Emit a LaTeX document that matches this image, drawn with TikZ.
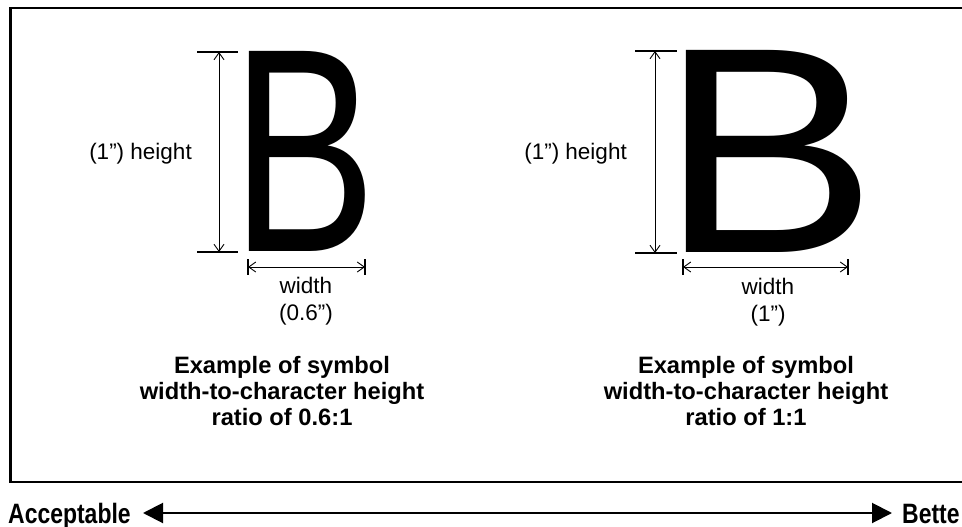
\documentclass[tikz,border=0pt]{standalone}
\usepackage{fontspec}
\setmainfont{Liberation Sans}
\newfontfamily\narrowsans{Liberation Sans}[FakeStretch=0.82]
\usetikzlibrary{arrows.meta}
\newcommand{\inch}{\symbol{34}}

\begin{document}
\begin{tikzpicture}[x=1pt,y=-1pt,
	dim/.style={line width=0.9pt,{Straight Barb[length=7pt,width=10pt]}-{Straight Barb[length=7pt,width=10pt]}},
	ext/.style={line width=1.1pt},
	glyph/.style={inner sep=0pt,anchor=south west},
	lbl/.style={inner sep=0pt,font=\fontsize{22.5}{26.5}\selectfont},
	caption/.style={inner sep=0pt,align=center,anchor=north,font=\fontsize{23.7}{26}\selectfont\bfseries},
	ends/.style={inner sep=0pt,anchor=base west,font=\narrowsans\fontsize{28}{30}\selectfont\bfseries}]
		\useasboundingbox (0,0) rectangle (962,527);
		\clip (0,0) rectangle (962,527);
		\draw[line width=2.5pt] (10.5,8) rectangle (990,482);
		% left letter, 0.6 : 1
		\node[glyph] (bleft) at (231,252) {\resizebox{145pt}{200pt}{B}};
		\coordinate (lhtop) at (219,52); \coordinate (lhbot) at (219,252);
		\draw[ext] (197,52) -- (238,52); \draw[ext] (197,252) -- (238,252);
		\draw[dim] (lhtop) -- (lhbot);
		\coordinate (lwleft) at (248,267); \coordinate (lwright) at (365,267);
		\draw[ext] (248,259) -- (248,275); \draw[ext] (365,259) -- (365,275);
		\draw[dim] (lwleft) -- (lwright);
		\node[lbl,anchor=base east] (lheight) at (192,159) {(1\inch) height};
		\node[lbl,align=center,anchor=north] (lwidth) at (306,277) {width\\(0.6\inch)};
		\node[caption] (lcap) at (282,356) {Example of symbol\\width-to-character height\\ratio of 0.6:1};
		% right letter, 1 : 1
		\node[glyph] (bright) at (659,253) {\resizebox{218pt}{202pt}{B}};
		\coordinate (rhtop) at (655,51); \coordinate (rhbot) at (655,253);
		\draw[ext] (635,51) -- (677,51); \draw[ext] (635,253) -- (677,253);
		\draw[dim] (rhtop) -- (rhbot);
		\coordinate (rwleft) at (683,267); \coordinate (rwright) at (848,267);
		\draw[ext] (683,259) -- (683,275); \draw[ext] (848,259) -- (848,275);
		\draw[dim] (rwleft) -- (rwright);
		\node[lbl,anchor=base east] (rheight) at (627,159) {(1”) height};
		\node[lbl,align=center,anchor=north] (rwidth) at (768,278) {width\\(1”)};
		\node[caption] (rcap) at (746,356) {Example of symbol\\width-to-character height\\ratio of 1:1};
		% scale along the bottom
		\node[ends] (acc) at (8,523) {Acceptable};
		\node[ends] (bet) at (902,523) {Bette};
		\coordinate (acctip) at (143,513); \coordinate (bettip) at (892,513);
		\draw[line width=2pt,{Triangle[length=20pt,width=20pt]}-{Triangle[length=20pt,width=20pt]}] (acctip) -- (bettip);
	\end{tikzpicture}
\end{document}
